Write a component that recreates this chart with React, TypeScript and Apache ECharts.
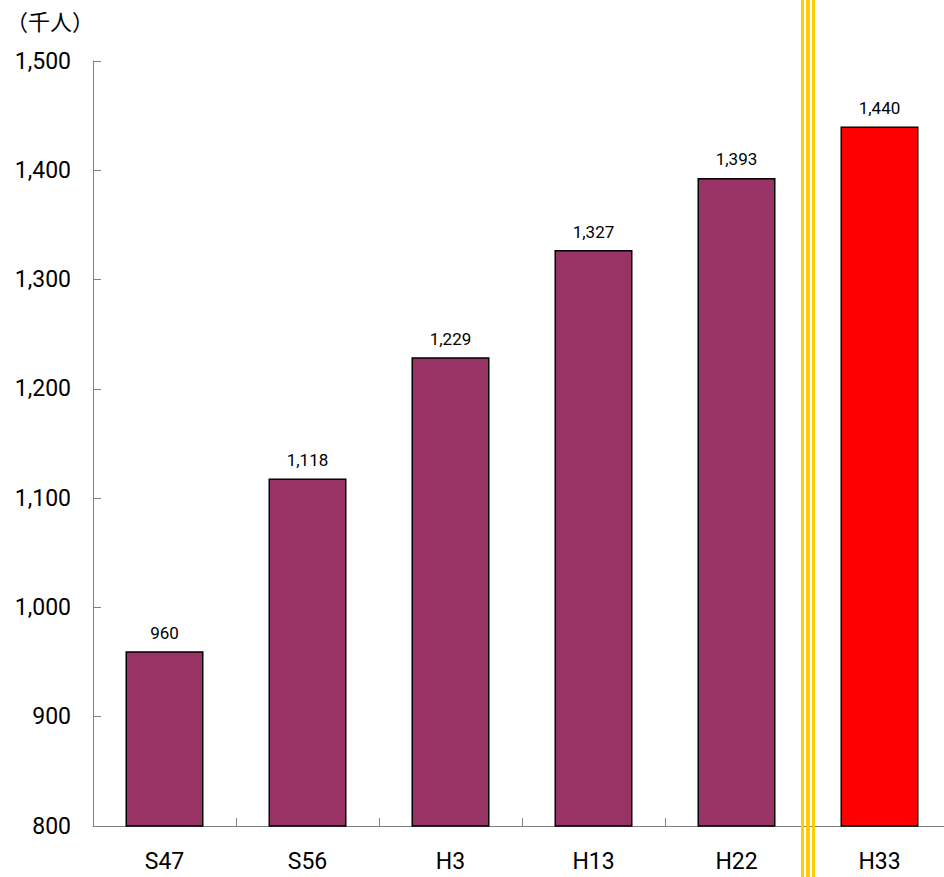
import React, { useEffect, useRef } from "react";
import * as echarts from "echarts";

const categories = ["S47", "S56", "H3", "H13", "H22", "H33"];
const values = [960, 1118, 1229, 1327, 1393, 1440];
const barColors = ["#993366", "#993366", "#993366", "#993366", "#993366", "#FF0000"];
const yMin = 800;
const yMax = 1500;
const yStep = 100;
const unitLabel = "（千人）";

export default function App() {
  const ref = useRef<HTMLDivElement>(null);
  useEffect(() => {
    if (!ref.current) return;
    const chart = echarts.init(ref.current, undefined, { renderer: "svg" });
    const font = "Roboto, 'Liberation Sans', Arial, sans-serif";
    chart.setOption({
      animation: false,
      grid: { left: 93, right: 9, top: 61, bottom: 51, containLabel: false },
      xAxis: {
        type: "category",
        data: categories,
        axisLine: { lineStyle: { color: "#808080", width: 1 } },
        axisTick: { show: true, inside: true, length: 8, alignWithLabel: false, lineStyle: { color: "#808080" } },
        axisLabel: { color: "#000", fontSize: 23, fontFamily: font, margin: 24 },
        splitLine: { show: false },
      },
      yAxis: {
        type: "value",
        min: yMin,
        max: yMax,
        interval: yStep,
        axisLine: { show: true, lineStyle: { color: "#808080", width: 1 } },
        axisTick: { show: true, inside: true, length: 8, lineStyle: { color: "#808080" } },
        axisLabel: {
          color: "#000",
          fontSize: 23,
          fontFamily: font,
          margin: 22,
          formatter: (v: number) => v.toLocaleString("en-US"),
        },
        splitLine: { show: false },
      },
      series: [
        {
          type: "bar",
          barWidth: 78,
          data: values.map((v, i) => ({
            value: v,
            itemStyle: { color: barColors[i], borderColor: "#000", borderWidth: 1.5 },
          })),
          label: {
            show: true,
            position: "top",
            distance: 10,
            color: "#000",
            fontSize: 17,
            fontFamily: font,
            formatter: (p: any) => Number(p.value).toLocaleString("en-US"),
          },
        },
      ],
    });
    const x1 = chart.convertToPixel({ xAxisIndex: 0 }, categories[4]) as number;
    const x2 = chart.convertToPixel({ xAxisIndex: 0 }, categories[5]) as number;
    const mid = (x1 + x2) / 2;
    const h = 877;
    chart.setOption({
      graphic: [
        {
          type: "text",
          left: 6,
          top: 9,
          style: { text: unitLabel, fontSize: 22, fill: "#000", fontFamily: "'Noto Sans CJK JP', sans-serif" },
        },
        { type: "rect", shape: { x: mid - 7, y: 0, width: 3, height: h }, style: { fill: "#FFCC00" }, z: 100 },
        { type: "rect", shape: { x: mid - 2, y: 0, width: 4, height: h }, style: { fill: "#FFCC00" }, z: 100 },
        { type: "rect", shape: { x: mid + 4, y: 0, width: 3, height: h }, style: { fill: "#FFCC00" }, z: 100 },
      ],
    });
    return () => chart.dispose();
  }, []);
  return (
    <div style={{ position: "fixed", left: 0, top: 0, width: 944, height: 877, overflow: "hidden", background: "#fff" }}>
      <div ref={ref} style={{ width: 960, height: 877 }} />
    </div>
  );
}
